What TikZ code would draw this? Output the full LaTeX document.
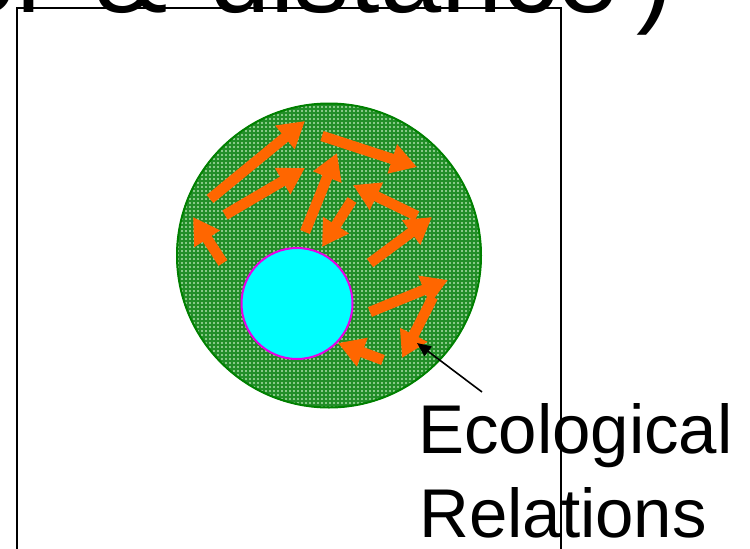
\documentclass[tikz,border=0pt]{standalone}
\usepackage{fontspec}
\setmainfont{Liberation Sans}
\usetikzlibrary{arrows.meta}
\definecolor{orangearrow}{RGB}{255,102,0}
\definecolor{cellgreen}{RGB}{135,200,135}
\definecolor{linegreen}{RGB}{34,142,40}
\definecolor{rimgreen}{RGB}{0,128,0}
\definecolor{nucleus}{RGB}{0,255,255}
\definecolor{nucrim}{RGB}{230,0,230}
\begin{document}
\begin{tikzpicture}[x=1pt,y=-1pt,
  relarrow/.style={draw=orangearrow, fill=orangearrow, line width=10.5pt,
    -{Triangle[length=26pt,width=29pt]}},
  pointer/.style={draw=black, line width=1.6pt, -{Triangle[length=14pt,width=12pt]}},
  bigtitle/.style={font=\fontsize{110}{132}\selectfont, inner sep=0pt, anchor=base west},
  labeltext/.style={font=\fontsize{69}{84}\selectfont, inner sep=0pt, anchor=base west},
  frameline/.style={draw=black, line width=2pt},
  gridline/.style={draw=linegreen, line width=1.5pt}]
\useasboundingbox (0,0) rectangle (750,549);
\begin{scope}
\clip (0,0) rectangle (750,549);
% cell
\node (cell) [circle, minimum size=305pt, inner sep=0pt, fill=cellgreen] at (329,255.5) {};
\begin{scope}
  \clip (cell.center) circle[radius=152.5pt];
  \foreach \g in {176,180,...,484} {
    \draw[gridline] (\g,100) -- (\g,412);
  }
  \foreach \g in {101,105,...,411} {
    \draw[gridline] (174,\g) -- (486,\g);
  }
\end{scope}
\draw[draw=rimgreen, line width=2pt] (cell.center) circle[radius=152pt];
% nucleus
\node (nuc) [circle, minimum size=111pt, inner sep=0pt, fill=nucleus, draw=nucrim, line width=2pt] at (297,303.5) {};
% relation arrows
\coordinate (a1s) at (210,199);  \coordinate (a1e) at (305,121);
\coordinate (a2s) at (225,215);  \coordinate (a2e) at (305,168);
\coordinate (a3s) at (223,263);  \coordinate (a3e) at (193,217);
\coordinate (a4s) at (322,136);  \coordinate (a4e) at (417,167);
\coordinate (a5s) at (305,232);  \coordinate (a5e) at (337,153);
\coordinate (a6s) at (352,200);  \coordinate (a6e) at (322,247);
\coordinate (a7s) at (417,216);  \coordinate (a7e) at (353,185);
\coordinate (a8s) at (370,263);  \coordinate (a8e) at (432,217);
\coordinate (a9s) at (370,312);  \coordinate (a9e) at (448,280);
\coordinate (a10s) at (433,297); \coordinate (a10e) at (402,358);
\coordinate (a11s) at (383,360); \coordinate (a11e) at (338,343);
\foreach \i in {1,...,11} {
  \draw[relarrow] (a\i s) -- (a\i e);
}
% frame
\draw[frameline] (17,560) -- (17,7.5) -- (561,7.5) -- (561,560);
% title fragment
\node[bigtitle] (t1) at (-45,12) {or};
\node[bigtitle] (t2) at (94.5,12) {\&};
\node[bigtitle] (t3) at (209,12) {distance};
\node[bigtitle] (t4) at (636,12) {)};
% label
\node[labeltext] (lab1) at (418,453) {Ecological};
\node[labeltext] (lab2) at (419,537) {Relations};
\draw[frameline] (561,330) -- (561,549);
\coordinate (ptr) at (482,392);
\coordinate (ptrtip) at (417,343);
\draw[pointer] (ptr) -- (ptrtip);
\end{scope}
\end{tikzpicture}
\end{document}
